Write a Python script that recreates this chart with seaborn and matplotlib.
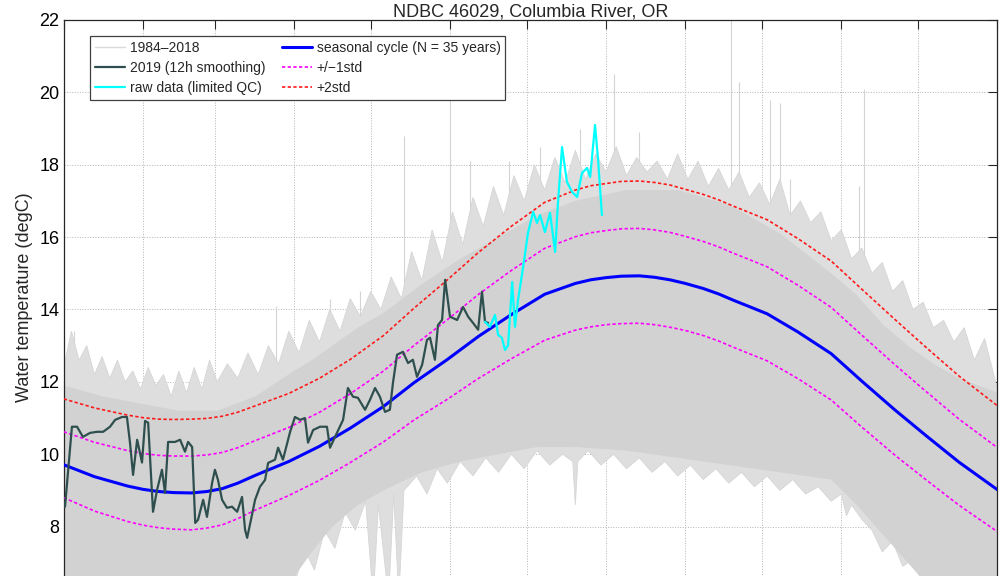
import matplotlib
matplotlib.use("Agg")
import matplotlib.pyplot as plt
import numpy as np
import pandas as pd
import seaborn as sns

# ---- data (x = day of year, y = degC) ----
# seasonal cycle and its standard deviation
clim_days = [0, 12, 25, 31, 37, 43, 50, 56, 62, 68, 75, 88, 100, 112, 125, 137, 150,
             162, 175, 188, 200, 206, 212, 218, 225, 231, 237, 243, 250, 256, 262, 268,
             275, 287, 300, 312, 325, 337, 350, 365]
clim_mean = [9.71, 9.38, 9.12, 9.03, 8.97, 8.94, 8.93, 8.97, 9.05, 9.20, 9.42, 9.80,
             10.22, 10.72, 11.32, 11.98, 12.62, 13.25, 13.86, 14.42, 14.72, 14.82, 14.88,
             14.92, 14.93, 14.89, 14.82, 14.72, 14.58, 14.43, 14.25, 14.08, 13.88, 13.38,
             12.78, 12.02, 11.22, 10.52, 9.78, 9.02]
clim_std = [0.91, 0.95, 0.98, 0.99, 1.00, 1.01, 1.02, 1.01, 1.00, 0.98, 0.96, 0.94,
            0.94, 0.95, 0.98, 1.03, 1.10, 1.16, 1.22, 1.27, 1.29, 1.30, 1.30, 1.31,
            1.31, 1.31, 1.31, 1.30, 1.30, 1.30, 1.30, 1.30, 1.30, 1.29, 1.28, 1.27,
            1.25, 1.22, 1.19, 1.16]

# 1984-2018 record: outer (hairy) envelope of the grey lines
edge_hi_days = [0, 3, 6, 9, 12, 15, 18, 21, 24, 27, 30, 33, 36, 39, 42, 45, 48, 51, 54,
                57, 60, 64, 68, 72, 76, 80, 84, 88, 92, 96, 100, 104, 108, 112, 116, 120,
                124, 128, 132, 136, 140, 144, 148, 152, 156, 160, 164, 168, 172, 176, 180,
                184, 188, 192, 196, 200, 204, 208, 212, 216, 220, 224, 228, 232, 236,
                240, 244, 248, 252, 256, 260, 264, 268, 272, 276, 280, 284, 288, 292,
                296, 300, 304, 308, 312, 316, 320, 324, 328, 332, 336, 340, 344, 348,
                352, 356, 360, 365]
edge_hi_temp = [12.4, 13.4, 12.6, 13.0, 12.2, 12.7, 12.1, 12.6, 12.0, 12.3, 11.8, 12.4,
                11.9, 12.2, 11.6, 12.3, 11.7, 12.4, 11.8, 12.6, 12.0, 12.5, 12.1, 12.8,
                12.2, 13.0, 12.5, 13.4, 12.8, 13.7, 13.1, 14.0, 13.4, 14.3, 13.8, 14.5,
                14.0, 14.9, 14.3, 15.6, 14.8, 16.2, 15.3, 16.7, 15.8, 17.1, 16.3, 17.4,
                16.6, 17.7, 17.0, 18.0, 17.3, 18.2, 17.5, 18.4, 17.6, 18.3, 17.8, 18.5,
                17.7, 18.2, 17.8, 18.1, 17.6, 18.3, 17.6, 18.1, 17.4, 17.9, 17.3, 17.8,
                17.1, 17.5, 16.9, 17.6, 16.6, 17.0, 16.4, 16.7, 15.9, 16.2, 15.4, 15.7,
                15.0, 15.3, 14.5, 14.8, 14.0, 14.2, 13.5, 13.7, 13.1, 13.5, 12.6, 13.2,
                11.8]
edge_lo_days = [0, 85, 90, 94, 98, 102, 106, 110, 114, 118, 121, 123, 127, 129, 131, 133,
                138, 142, 146, 150, 155, 160, 165, 170, 175, 180, 185, 190, 195, 199, 200,
                201, 205, 210, 215, 220, 225, 230, 235, 240, 245, 250, 255, 260, 265, 270,
                275, 280, 285, 290, 295, 300, 304, 306, 308, 312, 316, 320, 324, 328, 332,
                336, 340, 365]
edge_lo_temp = [6.0, 6.0, 6.3, 7.4, 6.8, 7.9, 7.4, 8.4, 7.9, 8.7, 6.0, 8.6, 6.0, 8.9, 6.0,
                9.0, 9.4, 8.9, 9.6, 9.2, 9.8, 9.4, 9.9, 9.5, 10.0, 9.6, 10.1, 9.7, 10.0,
                9.8, 8.6, 9.8, 10.1, 9.7, 10.0, 9.6, 9.9, 9.5, 9.8, 9.4, 9.7, 9.3, 9.6,
                9.2, 9.5, 9.1, 9.4, 9.0, 9.3, 8.9, 9.1, 8.7, 8.9, 8.3, 8.6, 8.2, 7.9, 7.3,
                7.6, 6.9, 7.1, 6.4, 6.0, 6.0]
# dense core of the grey lines
core_days = [0, 15, 30, 45, 60, 75, 90, 97, 105, 115, 125, 140, 155, 170, 185, 200,
             220, 240, 260, 280, 300, 310, 320, 330, 340, 350, 365]
core_hi = [11.9, 11.6, 11.4, 11.2, 11.2, 11.6, 12.3, 12.6, 13.0, 13.5, 13.9, 14.7,
           15.4, 16.0, 16.6, 17.0, 17.3, 17.3, 16.9, 16.1, 15.0, 14.4, 13.6, 13.0,
           12.5, 12.1, 11.7]
core_lo = [6.0, 6.0, 6.0, 6.0, 6.0, 6.2, 6.6, 7.3, 8.0, 8.6, 9.0, 9.5, 9.8, 10.0,
           10.2, 10.2, 10.1, 9.9, 9.7, 9.5, 9.3, 8.6, 7.8, 7.0, 6.2, 6.0, 6.0]
# single tall excursions
spike_days = [4, 83, 104, 116, 133, 151, 159, 174, 186, 202, 215, 225, 261, 264, 276,
              280, 284, 311, 313, 343]
spike_tops = [13.4, 14.1, 14.3, 14.5, 18.8, 19.8, 18.1, 18.1, 18.5, 19.0, 20.5, 18.9,
              22.0, 20.3, 19.8, 19.7, 17.6, 17.4, 20.1, 13.5]

# 2019, 12h smoothing
y2019_days = [0, 0.5, 3.2, 5.2, 7.5, 10.3, 13.0, 15.4, 18.1, 20.1, 22.8, 24.7, 25.9,
              27.1, 28.7, 30.6, 31.8, 33.0, 34.5, 34.9, 36.5, 38.4, 39.6, 40.8, 43.5,
              45.5, 47.4, 48.6, 50.2, 51.4, 52.5, 54.5, 56.0, 58.0, 59.1, 60.3, 61.9,
              63.8, 65.8, 67.8, 69.7, 70.9, 71.7, 73.2, 74.8, 76.7, 78.7, 79.9, 82.6,
              83.8, 85.7, 88.5, 90.4, 92.4, 94.3, 95.5, 97.5, 100.2, 102.9, 104.1,
              106.8, 109.2, 111.1, 113.1, 115.0, 117.8, 119.7, 121.7, 123.6, 125.6,
              127.5, 128.7, 130.3, 132.6, 134.6, 136.5, 138.1, 140.1, 142.0, 143.2,
              145.1, 146.3, 147.9, 149.1, 151.0, 153.8, 156.1, 158.1, 160.0, 162.0,
              163.5, 164.7, 165.9]
y2019_temp = [8.66, 8.55, 10.76, 10.76, 10.48, 10.59, 10.62, 10.62, 10.76, 10.95, 11.03,
              11.03, 10.32, 9.43, 10.40, 9.77, 10.92, 10.87, 8.93, 8.41, 9.02, 9.57, 8.93,
              10.34, 10.34, 10.40, 10.07, 10.34, 10.20, 8.10, 8.19, 8.74, 8.27, 9.21, 9.57,
              9.29, 8.74, 8.52, 8.55, 8.41, 8.82, 7.91, 7.69, 8.19, 8.74, 9.10, 9.29, 9.76,
              9.85, 10.18, 9.85, 10.62, 11.03, 10.95, 11.00, 10.32, 10.67, 10.76, 10.76,
              10.18, 10.59, 10.95, 11.83, 11.59, 11.56, 11.23, 11.50, 11.83, 11.59, 11.17,
              11.23, 11.97, 12.75, 12.83, 12.52, 12.61, 12.14, 12.47, 13.16, 13.22, 12.61,
              13.57, 13.71, 14.82, 13.80, 13.71, 14.07, 13.80, 13.63, 13.44, 14.49, 13.66,
              13.63]

# raw data (limited QC)
raw_days = [164.7, 166.6, 168.6, 169.8, 171.3, 172.5, 173.7, 175.3, 176.4, 177.6, 179.6,
            181.5, 183.5, 185.0, 186.2, 188.1, 190.1, 192.1, 193.2, 194.8, 196.7, 198.7,
            200.7, 202.6, 204.6, 205.8, 207.7, 208.9, 210.4]
raw_temp = [13.66, 13.52, 13.85, 13.30, 13.22, 12.88, 13.00, 14.76, 13.52, 14.26, 15.18,
            16.12, 16.70, 16.39, 16.61, 16.14, 16.67, 15.59, 16.94, 18.49, 17.53, 17.25,
            17.11, 17.77, 17.91, 17.66, 19.10, 18.13, 16.61]

month_starts = [0, 31, 59, 90, 120, 151, 181, 212, 243, 273, 304, 334, 365]

clim = pd.DataFrame({"day": clim_days, "mean": clim_mean, "std": clim_std})
clim["p1"] = clim["mean"] + clim["std"]
clim["m1"] = clim["mean"] - clim["std"]
clim["p2"] = clim["mean"] + 2 * clim["std"]

# ---- figure ----
sns.set_style("white")
plt.rcParams["font.family"] = ["Liberation Sans", "DejaVu Sans"]

fig = plt.figure(figsize=(9.99, 5.76), dpi=100)
ax = fig.add_axes([0.0638, -0.0399, 0.9346, 1.0052])

# grey 1984-2018 cloud
ax.vlines(spike_days, 10, spike_tops, color="#d4d4d4", lw=0.8, zorder=0.9)
ax.fill(edge_hi_days + edge_lo_days[::-1], edge_hi_temp + edge_lo_temp[::-1],
        color="#dedede", lw=0.6, ec="#d6d6d6", zorder=1)
ax.fill(core_days + core_days[::-1], core_hi + core_lo[::-1],
        color="#d2d2d2", lw=0, zorder=1.1)

dots = (0, (2, 1.4))
sns.lineplot(data=clim, x="day", y="p2", ax=ax, color="#ff1a1a", lw=1.2,
             linestyle=dots, sort=False, zorder=3)
h_p2 = ax.lines[-1]
sns.lineplot(data=clim, x="day", y="p1", ax=ax, color="#ff00ff", lw=1.2,
             linestyle=dots, sort=False, zorder=3)
h_p1 = ax.lines[-1]
sns.lineplot(data=clim, x="day", y="m1", ax=ax, color="#ff00ff", lw=1.2,
             linestyle=dots, sort=False, zorder=3)
sns.lineplot(data=clim, x="day", y="mean", ax=ax, color="#0000ff", lw=2.2,
             sort=False, zorder=4)
h_mean = ax.lines[-1]
sns.lineplot(x=y2019_days, y=y2019_temp, ax=ax, color="#2f4f4f", lw=1.6,
             sort=False, estimator=None, zorder=5)
h_2019 = ax.lines[-1]
sns.lineplot(x=raw_days, y=raw_temp, ax=ax, color="#00ffff", lw=1.6,
             sort=False, estimator=None, zorder=5)
h_raw = ax.lines[-1]
h_hist = plt.Line2D([], [], color="#d9d9d9", lw=1)

ax.set_xlim(0, 365)
ax.set_ylim(6, 22)
ax.set_xticks(month_starts)
ax.set_xticklabels([])
ax.set_yticks(range(8, 23, 2))
ax.set_xlabel("")
ax.set_ylabel("Water temperature (degC)", fontsize=13)
ax.yaxis.set_label_coords(-0.033, 0.522)
ax.set_axisbelow(True)
ax.grid(True, color="#b4b4b4", linestyle=":", lw=0.7)
ax.tick_params(direction="in", length=6.5, width=0.8, top=True, right=True,
               labelsize=13, pad=3, colors="#262626", labelcolor="black")
for s in ax.spines.values():
    s.set_color("#262626")
    s.set_linewidth(0.9)

leg = ax.legend([h_hist, h_2019, h_raw, h_mean, h_p1, h_p2],
                ["1984\u20132018", "2019 (12h smoothing)", "raw data (limited QC)",
                 "seasonal cycle (N = 35 years)", "+/\u22121std", "+2std"],
                ncol=2, loc="upper left", bbox_to_anchor=(0.0282, 0.9724),
                borderaxespad=0, fontsize=10, handlelength=2.2, handletextpad=0.3,
                columnspacing=1.2, labelspacing=0.45, fancybox=False, framealpha=1,
                edgecolor="#404040", borderpad=0.35)
leg.get_frame().set_linewidth(0.9)

fig.text(0.531, 0.9705, "NDBC 46029, Columbia River, OR", ha="center",
         va="baseline", fontsize=13)

fig.savefig("out.png", dpi=100)
